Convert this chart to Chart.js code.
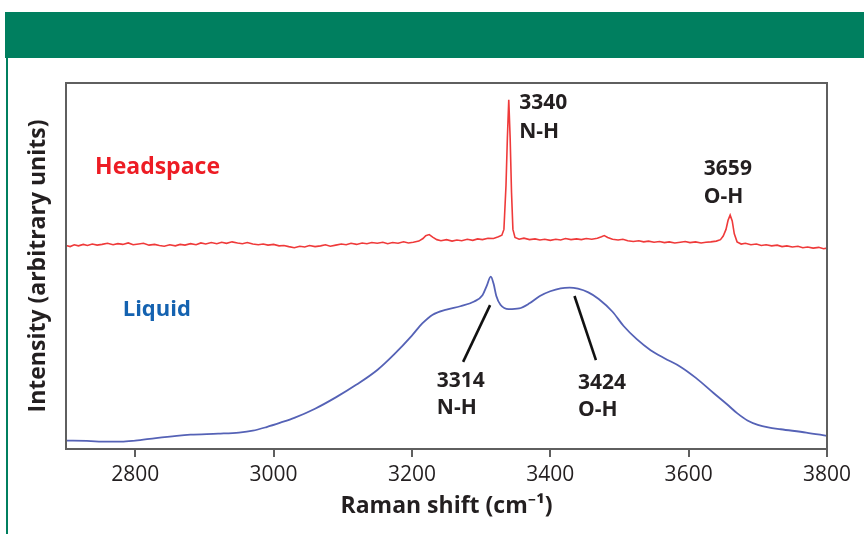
<!DOCTYPE html>
<html>
<head>
<meta charset="utf-8">
<script src="https://cdn.jsdelivr.net/npm/chart.js@4.4.1/dist/chart.umd.min.js"></script>
<style>
  html, body { margin: 0; padding: 0; background: #fff; }
  #wrap { position: relative; width: 864px; height: 534px; overflow: hidden; }
  #band { position: absolute; left: 5px; top: 12px; width: 859px; height: 46px; background: #007f5f; }
  #rule { position: absolute; left: 6px; top: 58px; width: 2px; height: 476px; background: #007f5f; }
  #myChart { position: absolute; left: 0; top: 0; }
</style>
</head>
<body>
<div id="wrap">
  <div id="band"></div>
  <div id="rule"></div>
  <canvas id="myChart" width="864" height="534"></canvas>
</div>
<script>
// Raman shift (cm-1) and intensity
const headspaceShift = [2700, 2706, 2712, 2718, 2725, 2731, 2738, 2745, 2752, 2760, 2768, 2775, 2782, 2790, 2797, 2805, 2812, 2820, 2828, 2835, 2842, 2850, 2858, 2865, 2872, 2880, 2888, 2895, 2902, 2910, 2918, 2925, 2932, 2940, 2948, 2955, 2962, 2970, 2978, 2985, 2992, 3000, 3008, 3015, 3022, 3030, 3038, 3045, 3052, 3060, 3068, 3075, 3082, 3090, 3098, 3105, 3112, 3120, 3128, 3135, 3142, 3150, 3158, 3165, 3172, 3180, 3188, 3195, 3202, 3210, 3216, 3220, 3225, 3230, 3236, 3242, 3250, 3258, 3265, 3272, 3280, 3288, 3295, 3302, 3310, 3318, 3325, 3330, 3333, 3336, 3338, 3340, 3342, 3344, 3346, 3349, 3355, 3362, 3370, 3378, 3385, 3392, 3400, 3408, 3415, 3422, 3430, 3438, 3445, 3452, 3460, 3468, 3474, 3478, 3483, 3490, 3498, 3505, 3512, 3520, 3528, 3535, 3542, 3550, 3558, 3565, 3572, 3580, 3588, 3595, 3602, 3610, 3618, 3625, 3632, 3640, 3646, 3650, 3654, 3657, 3660, 3663, 3666, 3670, 3676, 3682, 3690, 3698, 3705, 3712, 3720, 3728, 3735, 3742, 3750, 3758, 3765, 3772, 3780, 3788, 3795, 3800];
const headspaceIntensity = [55.6, 55.3, 55.8, 55.5, 55.9, 55.6, 56.0, 55.7, 55.9, 56.2, 55.8, 56.1, 55.9, 56.3, 55.8, 56.0, 56.2, 55.7, 55.9, 55.6, 55.4, 55.8, 55.5, 55.9, 55.7, 56.1, 55.8, 56.3, 56.0, 56.4, 56.1, 56.5, 56.2, 56.6, 56.3, 56.1, 56.4, 56.0, 55.8, 56.0, 55.7, 55.9, 55.5, 55.6, 55.3, 55.0, 55.4, 55.2, 55.6, 55.3, 55.5, 55.8, 55.4, 55.7, 56.0, 55.8, 56.2, 55.9, 56.3, 56.1, 56.4, 56.2, 56.5, 56.1, 56.4, 56.2, 56.6, 56.3, 56.5, 56.8, 57.5, 58.3, 58.6, 57.9, 57.2, 56.9, 57.2, 56.8, 57.1, 56.9, 57.3, 57.0, 57.4, 57.2, 57.6, 57.5, 58.0, 58.4, 60.0, 72.0, 85.0, 95.4, 85.0, 70.0, 60.0, 57.8, 57.3, 57.6, 57.2, 57.4, 57.1, 57.3, 57.0, 57.3, 57.1, 57.5, 57.2, 57.4, 57.2, 57.5, 57.3, 57.6, 58.0, 58.3, 57.8, 57.3, 57.1, 57.3, 56.9, 56.7, 56.9, 56.6, 56.8, 56.5, 56.7, 56.4, 56.6, 56.3, 56.5, 56.7, 56.4, 56.6, 56.3, 56.5, 56.6, 56.8, 57.2, 58.2, 60.0, 62.5, 63.9, 62.3, 58.8, 56.6, 56.0, 56.2, 55.8, 56.0, 55.6, 55.8, 55.5, 55.7, 55.3, 55.5, 55.2, 55.4, 55.0, 55.2, 54.9, 55.1, 54.7, 54.9, 54.8];

const liquidShift = [2700, 2730, 2760, 2780, 2800, 2830, 2860, 2880, 2920, 2950, 2970, 2990, 3010, 3030, 3060, 3090, 3120, 3150, 3175, 3200, 3215, 3230, 3250, 3270, 3290, 3302, 3308, 3314, 3318, 3322, 3328, 3340, 3355, 3370, 3385, 3400, 3415, 3428, 3440, 3455, 3470, 3490, 3506, 3525, 3545, 3565, 3588, 3610, 3636, 3655, 3670, 3685, 3700, 3715, 3733, 3770, 3800];
const liquidIntensity = [2.3, 2.2, 2.0, 2.0, 2.3, 3.0, 3.6, 3.9, 4.2, 4.5, 5.0, 6.0, 7.2, 8.5, 11.0, 14.1, 17.6, 21.6, 26.0, 31.0, 34.3, 36.7, 38.1, 39.0, 40.3, 42.0, 44.5, 47.1, 45.2, 41.8, 39.4, 38.2, 38.4, 39.8, 41.8, 43.1, 43.9, 44.1, 43.8, 42.8, 41.0, 37.5, 33.6, 30.0, 27.0, 24.8, 22.5, 19.5, 15.3, 12.3, 9.8, 7.8, 6.6, 5.9, 5.4, 4.5, 3.6];

// leader lines for the two liquid peaks
const leaderNH = [[3313, 39.3], [3274, 23.8]];
const leaderOH = [[3435, 41.8], [3466, 24.3]];

const xTicks = [2800, 3000, 3200, 3400, 3600, 3800];

// text labels: [text, x, y, colour, size]
const notes = [
  ['Headspace', 2742, 77.0, '#ed1c24', 23],
  ['Liquid', 2782, 38.0, '#1462b0', 22],
  ['3340', 3355, 94.5, '#231f20', 21],
  ['N-H', 3355, 86.6, '#231f20', 21],
  ['3659', 3622, 76.5, '#231f20', 21],
  ['O-H', 3622, 68.9, '#231f20', 21],
  ['3314', 3236, 18.6, '#231f20', 21],
  ['N-H', 3236, 11.2, '#231f20', 21],
  ['3424', 3440, 18.0, '#231f20', 21],
  ['O-H', 3440, 10.7, '#231f20', 21],
];

const FONT = '"Open Sans", "Noto Sans", sans-serif';

const toXY = (xs, ys) => xs.map((x, i) => ({ x: x, y: ys[i] }));

// frame around plot + text labels
const extras = {
  id: 'extras',
  afterDatasetsDraw(chart) {
    const { ctx, chartArea, scales } = chart;
    ctx.save();
    ctx.strokeStyle = '#5f5f5f';
    ctx.lineWidth = 2;
    ctx.strokeRect(chartArea.left, chartArea.top, chartArea.right - chartArea.left, chartArea.bottom - chartArea.top);
    ctx.textBaseline = 'middle';
    ctx.textAlign = 'left';
    notes.forEach((n) => {
      ctx.fillStyle = n[3];
      ctx.font = 'bold ' + n[4] + 'px ' + FONT;
      ctx.fillText(n[0], scales.x.getPixelForValue(n[1]), scales.y.getPixelForValue(n[2]));
    });
    ctx.restore();
  },
};

const ctx = document.getElementById('myChart').getContext('2d');
window.myChart = new Chart(ctx, {
  type: 'line',
  data: {
    datasets: [
      {
        label: 'Headspace',
        data: toXY(headspaceShift, headspaceIntensity),
        borderColor: '#ef3a3a',
        borderWidth: 1.6,
        pointRadius: 0,
        tension: 0,
      },
      {
        label: 'Liquid',
        data: toXY(liquidShift, liquidIntensity),
        borderColor: '#5562b6',
        borderWidth: 1.8,
        pointRadius: 0,
        cubicInterpolationMode: 'monotone',
      },
      {
        label: 'NH leader',
        data: leaderNH.map((p) => ({ x: p[0], y: p[1] })),
        borderColor: '#111',
        borderWidth: 2.6,
        pointRadius: 0,
      },
      {
        label: 'OH leader',
        data: leaderOH.map((p) => ({ x: p[0], y: p[1] })),
        borderColor: '#111',
        borderWidth: 2.6,
        pointRadius: 0,
      },
    ],
  },
  options: {
    responsive: false,
    animation: false,
    events: [],
    layout: { padding: { top: 83, right: 37, left: 0, bottom: 0 } },
    plugins: { legend: { display: false }, tooltip: { enabled: false } },
    scales: {
      x: {
        type: 'linear',
        min: 2700,
        max: 3800,
        afterBuildTicks: (scale) => {
          scale.ticks = xTicks.map((v) => ({ value: v }));
        },
        afterFit: (scale) => {
          scale.height = 85;
        },
        border: { display: false },
        grid: { drawOnChartArea: false, drawTicks: true, tickLength: 8, color: '#5f5f5f', lineWidth: 2 },
        ticks: {
          padding: 5,
          color: '#231f20',
          font: { family: FONT, size: 21 },
          maxRotation: 0,
          callback: (value) => String(value),
        },
        title: {
          display: true,
          text: 'Raman shift (cm\u207B\u00B9)',
          color: '#231f20',
          font: { family: FONT, size: 23, weight: 'bold' },
          padding: { top: 0, bottom: 14 },
        },
      },
      y: {
        min: 0,
        max: 100,
        afterFit: (scale) => {
          scale.width = 66;
        },
        border: { display: false },
        grid: { display: false },
        ticks: { display: false },
        title: {
          display: true,
          text: 'Intensity (arbitrary units)',
          color: '#231f20',
          font: { family: FONT, size: 23, weight: 'bold' },
          padding: { top: 25, bottom: 0 },
        },
      },
    },
  },
  plugins: [extras],
});
</script>
</body>
</html>
